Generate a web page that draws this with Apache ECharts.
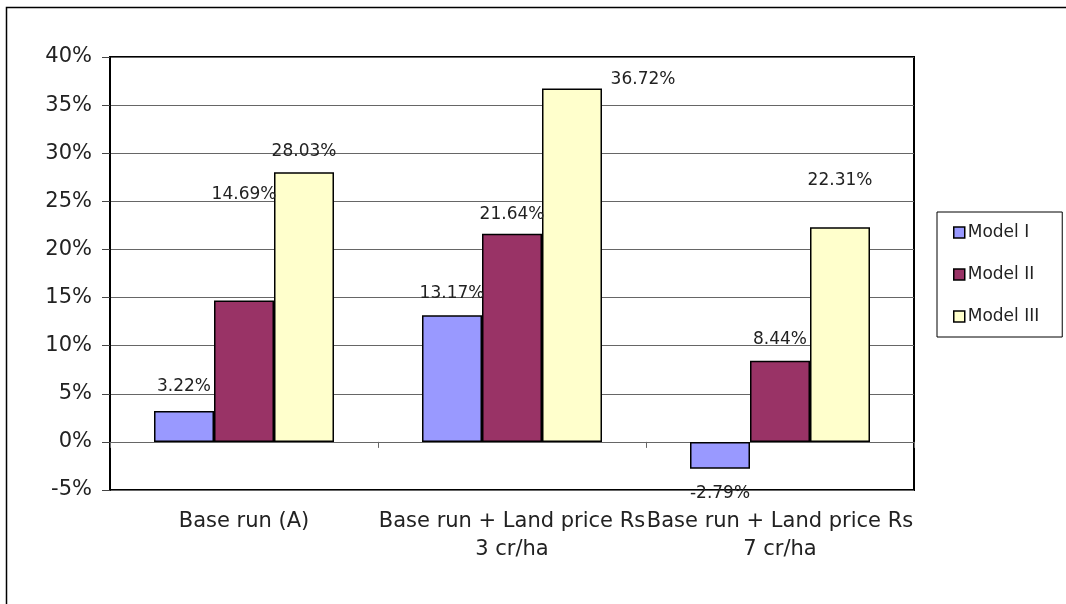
<!DOCTYPE html>
<html>
<head>
<meta charset="utf-8">
<script src="https://cdn.jsdelivr.net/npm/echarts@6/dist/echarts.min.js"></script>
<style>
  html, body { margin: 0; padding: 0; background: #fff; }
  #chart { width: 1066px; height: 604px; }
</style>
</head>
<body>
<div id="chart"></div>
<script>
const categories = ['Base run (A)', 'Base run + Land price Rs\n3 cr/ha', 'Base run + Land price Rs\n7 cr/ha']
const seriesNames = ['Model I', 'Model II', 'Model III']
const model1 = [3.22, 13.17, -2.79]
const model2 = [14.69, 21.64, 8.44]
const model3 = [28.03, 36.72, 22.31]
const colors = ['#9999FF', '#993366', '#FFFFCC']

const FONT = 'DejaVu Sans, sans-serif'

// label offsets, like the excel chart places them (not tidy)
const labelOffsets = [
    [[0, -16], [0, -13], [0, 16]],
    [[0, -97], [0, -11], [0, -13]],
    [[0, -12], [71, 0], [0, -38]]
]

const chart = echarts.init(document.getElementById('chart'))

const makeSeries = (name, values, idx) => ({
    name: name,
    type: 'bar',
    barWidth: 60,
    barGap: '0%',
    itemStyle: { color: colors[idx], borderColor: '#000', borderWidth: 1.5 },
    data: values.map((v, i) => ({
        value: v,
        label: {
            position: v < 0 ? 'bottom' : 'top',
            offset: labelOffsets[idx][i]
        }
    })),
    label: {
        show: true,
        distance: 0,
        fontFamily: FONT,
        fontSize: 17,
        color: '#222',
        formatter: p => p.value.toFixed(2) + '%'
    }
})

const option = {
    animation: false,
    graphic: [{
        type: 'rect',
        shape: { x: 6.5, y: 7.5, width: 1080, height: 620 },
        style: { fill: 'none', stroke: '#000', lineWidth: 1.5 },
        silent: true
    }],
    grid: {
        left: 110, top: 57, right: 152, bottom: 114,
        show: true, borderColor: '#000', borderWidth: 2
    },
    legend: {
        orient: 'vertical',
        left: 937, top: 212,
        padding: [12, 23, 12, 16],
        itemGap: 25,
        itemWidth: 11, itemHeight: 11,
        icon: 'rect',
        backgroundColor: '#fff',
        borderColor: '#000',
        borderWidth: 1,
        textStyle: { fontFamily: FONT, fontSize: 17, color: '#222', padding: [0, 0, 0, -2] },
        itemStyle: { borderColor: '#000', borderWidth: 1.5 },
        data: seriesNames
    },
    xAxis: [{
        type: 'category',
        data: categories,
        axisLine: { onZero: true, lineStyle: { color: '#666', width: 1 } },
        axisTick: { show: true, length: 6, lineStyle: { color: '#666' } },
        axisLabel: { show: false }
    }, {
        type: 'category',
        data: categories,
        position: 'bottom',
        axisLine: { show: false, onZero: false },
        axisTick: { show: false },
        axisLabel: {
            margin: 18,
            fontFamily: FONT,
            fontSize: 21,
            lineHeight: 28,
            color: '#222',
            interval: 0
        }
    }],
    yAxis: {
        type: 'value',
        min: -5, max: 40, interval: 5,
        axisLine: { show: true, lineStyle: { color: '#000', width: 2 } },
        axisTick: { show: true, length: 8, lineStyle: { color: '#444' } },
        splitLine: { lineStyle: { color: '#666', width: 1 } },
        axisLabel: {
            margin: 18,
            fontFamily: FONT,
            fontSize: 21,
            color: '#222',
            formatter: v => v + '%'
        }
    },
    series: [
        makeSeries(seriesNames[0], model1, 0),
        makeSeries(seriesNames[1], model2, 1),
        makeSeries(seriesNames[2], model3, 2)
    ]
}

chart.setOption(option)
window.addEventListener('resize', () => chart.resize())
</script>
</body>
</html>
